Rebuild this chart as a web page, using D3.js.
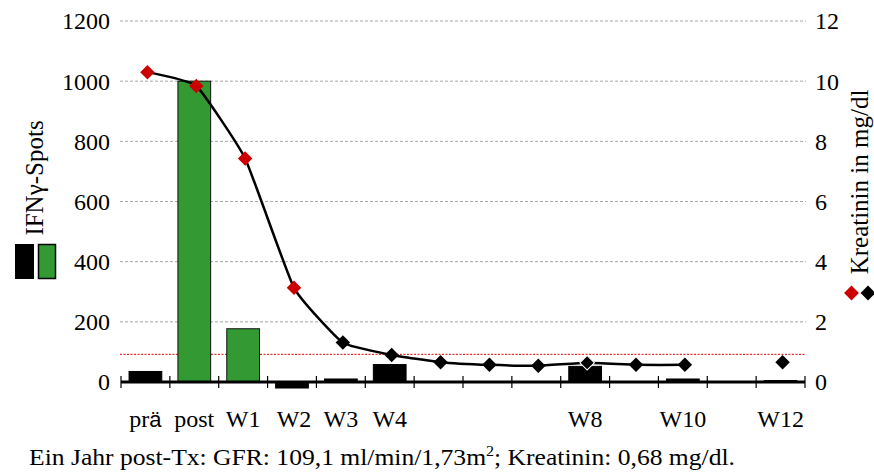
<!DOCTYPE html>
<html>
<head>
<meta charset="utf-8">
<script src="https://cdn.jsdelivr.net/npm/d3@7"></script>
<style>
  html, body { margin: 0; padding: 0; background: #fff; }
  svg { display: block; }
  svg text { font-family: "Liberation Serif" !important; }
  svg text tspan.sans { font-family: "Liberation Sans" !important; }
</style>
</head>
<body>
<svg id="chart" width="874" height="474" style="font-family: 'Liberation Serif'"></svg>
<script>
// ---- data ----
const categories = ["prä","post","W1","W2","W3","W4","W5","W6","W7","W8","W9","W10","W11","W12"];
const tickLabels = ["prä","post","W1","W2","W3","W4","","","","W8","","W10","","W12"];
const spotsBlack = [35, null, null, -20, 10, 58, null, null, null, 52, null, 10, null, 5];
const spotsGreen = [null, 1000, 177, null, null, null, null, null, null, null, null, null, null, null];
const kreatinin  = [10.3, 9.84, 7.43, 3.13, 1.31, 0.9, 0.66, 0.57, 0.54, 0.64, 0.57, 0.57, null, 0.66];
const kreatininRed = [true, true, true, true, false, false, false, false, false, false, false, false, false, false];
const leftTicks = [0, 200, 400, 600, 800, 1000, 1200];
const rightTicks = [0, 2, 4, 6, 8, 10, 12];
const thresholdKreatinin = 0.92;
const footnote = "Ein Jahr post-Tx: GFR: 109,1 ml/min/1,73m";

// ---- layout ----
const svg = d3.select("#chart");
const plot = { left: 121, right: 805, top: 21, bottom: 382 };

const x = d3.scaleBand().domain(categories).range([plot.left, plot.right]).paddingInner(0).paddingOuter(0);
const yL = d3.scaleLinear().domain([0, 1200]).range([plot.bottom, plot.top]);
const yR = d3.scaleLinear().domain([0, 12]).range([plot.bottom, plot.top]);

const RED = "#cc0000";
const GREEN = "#339933";

// gridlines
svg.append("g").selectAll("line").data(leftTicks.filter(d => d > 0)).join("line")
  .attr("x1", plot.left - 1).attr("x2", plot.right + 1)
  .attr("y1", d => yL(d)).attr("y2", d => yL(d))
  .attr("stroke", "#a8a8a8").attr("stroke-width", 1).attr("stroke-dasharray", "3,2");

// left tick labels
svg.append("g").selectAll("text").data(leftTicks).join("text")
  .attr("x", 110).attr("y", d => yL(d)).attr("dy", "0.35em")
  .attr("text-anchor", "end").attr("font-size", 24).text(d => d);

// right tick labels
svg.append("g").selectAll("text").data(rightTicks).join("text")
  .attr("x", 815).attr("y", d => yR(d)).attr("dy", "0.35em")
  .attr("text-anchor", "start").attr("font-size", 24).text(d => d);

// threshold line
svg.append("line")
  .attr("x1", plot.left - 1).attr("x2", plot.right + 1)
  .attr("y1", yR(thresholdKreatinin)).attr("y2", yR(thresholdKreatinin))
  .attr("stroke", "#e00000").attr("stroke-width", 1).attr("stroke-dasharray", "2,1.5");

// bars
const bw = x.bandwidth() * 0.67;
function drawBars(values, fill, stroke) {
  svg.append("g").selectAll("rect")
    .data(categories.map((c, i) => ({ c, v: values[i] })).filter(d => d.v != null))
    .join("rect")
    .attr("x", d => x(d.c) + (x.bandwidth() - bw) / 2)
    .attr("width", bw)
    .attr("y", d => Math.min(yL(d.v), yL(0)))
    .attr("height", d => Math.abs(yL(d.v) - yL(0)))
    .attr("fill", fill)
    .attr("stroke", stroke).attr("stroke-width", 1);
}
drawBars(spotsBlack, "#000", "#000");
drawBars(spotsGreen, GREEN, "#111");

// x axis line and ticks
svg.append("line")
  .attr("x1", plot.left).attr("x2", plot.right)
  .attr("y1", yL(0)).attr("y2", yL(0))
  .attr("stroke", "#000").attr("stroke-width", 3);
const tickPos = categories.map(c => x(c)).concat([plot.right]);
svg.append("g").selectAll("line").data(tickPos).join("line")
  .attr("x1", d => d).attr("x2", d => d)
  .attr("y1", yL(0) - 6).attr("y2", yL(0) + 6)
  .attr("stroke", "#000").attr("stroke-width", 1.2);

// x tick labels
const xl = svg.append("g");
categories.forEach((c, i) => {
  const lab = tickLabels[i];
  if (!lab) return;
  const t = xl.append("text")
    .attr("x", x(c) + x.bandwidth() / 2 + (i === 3 ? 2 : 0))
    .attr("y", 427).attr("text-anchor", "middle").attr("font-size", 24);
  if (lab === "prä") {
    t.append("tspan").text("pr");
    t.append("tspan").attr("class", "sans").attr("font-size", 22).text("ä");
  } else {
    t.text(lab);
  }
});

// kreatinin line
const pts = categories.map((c, i) => ({ c, v: kreatinin[i], red: kreatininRed[i] }));
const line = d3.line()
  .defined(d => d.v != null)
  .x(d => x(d.c) + x.bandwidth() / 2 + 2)
  .y(d => yR(d.v))
  .curve(d3.curveCardinal.tension(0.6));
svg.append("path").datum(pts).attr("d", line)
  .attr("fill", "none").attr("stroke", "#000").attr("stroke-width", 2.5);

const diamond = d3.symbol().type(d3.symbolSquare).size(105);
svg.append("g").selectAll("path").data(pts.filter(d => d.v != null)).join("path")
  .attr("d", diamond)
  .attr("transform", d => `translate(${x(d.c) + x.bandwidth() / 2 + 2},${yR(d.v)}) rotate(45)`)
  .attr("fill", d => d.red ? RED : "#000")
  .attr("stroke", d => d.c === "W8" ? "#fff" : "none")
  .attr("stroke-width", 1);

// left title + legend squares
svg.append("text")
  .attr("transform", "translate(43,178) rotate(-90)")
  .attr("text-anchor", "middle").attr("font-size", 25).text("IFNγ-Spots");
svg.append("rect").attr("x", 15).attr("y", 244).attr("width", 19).attr("height", 35).attr("fill", "#000");
svg.append("rect").attr("x", 38.5).attr("y", 244.5).attr("width", 17).attr("height", 34)
  .attr("fill", GREEN).attr("stroke", "#000").attr("stroke-width", 1.5);

// right title + legend diamonds
svg.append("text")
  .attr("transform", "translate(868,182) rotate(-90)")
  .attr("text-anchor", "middle").attr("font-size", 25).text("Kreatinin in mg/dl");
svg.append("path").attr("d", d3.symbol().type(d3.symbolSquare).size(110))
  .attr("transform", "translate(851.5,293) rotate(45)").attr("fill", RED);
svg.append("path").attr("d", d3.symbol().type(d3.symbolSquare).size(110))
  .attr("transform", "translate(868,293) rotate(45)").attr("fill", "#000");

// footnote
const fn = svg.append("text").attr("x", 29).attr("y", 465).attr("font-size", 24)
  .attr("textLength", 706).attr("lengthAdjust", "spacingAndGlyphs");
fn.append("tspan").text(footnote);
fn.append("tspan").attr("font-size", 15).attr("dy", -9).text("2");
fn.append("tspan").attr("dy", 9).text("; Kreatinin: 0,68 mg/dl.");
</script>
</body>
</html>
